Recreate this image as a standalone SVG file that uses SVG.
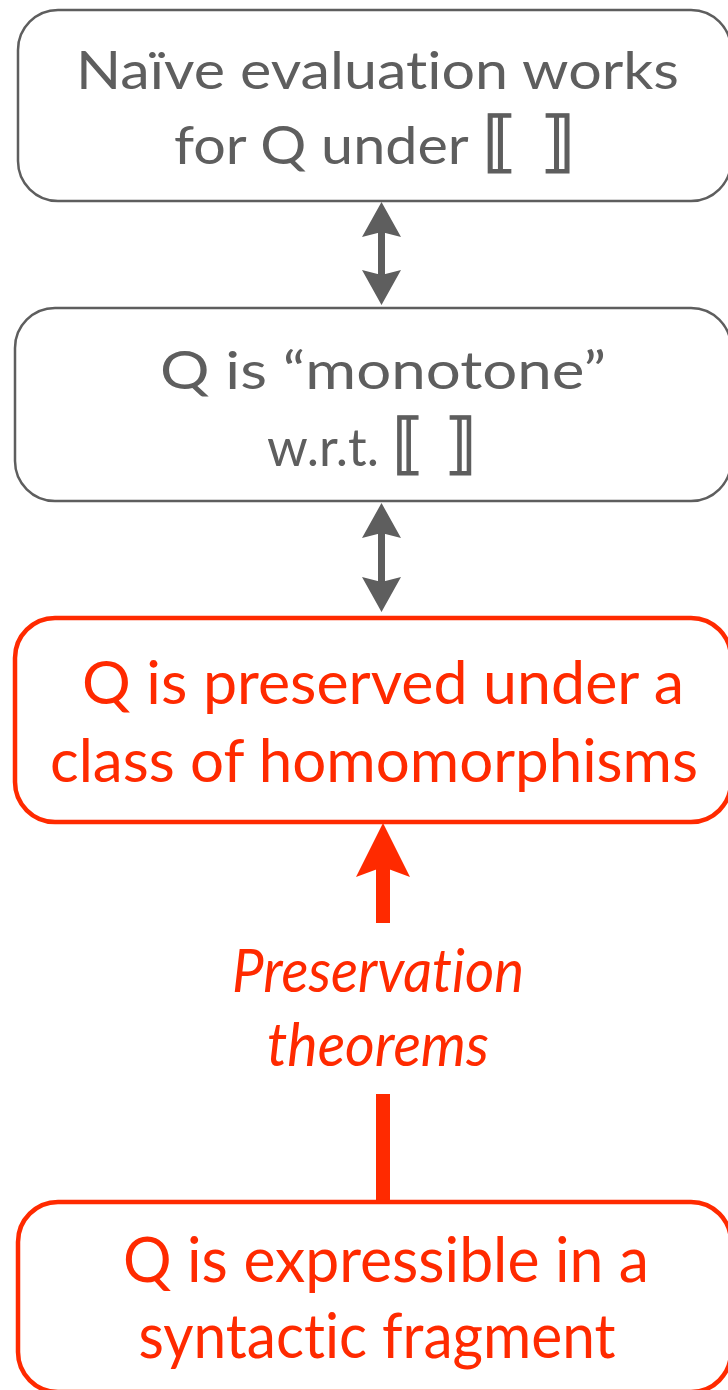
<svg xmlns="http://www.w3.org/2000/svg" width="728" height="1390" viewBox="0 0 728 1390">
  <style>
    .box-gray { fill: #ffffff; stroke: #5e5e5e; stroke-width: 2.5; }
    .box-red { fill: #ffffff; stroke: #ff2a00; stroke-width: 4.5; }
    .t { font-family: Lato, "DejaVu Sans", sans-serif; text-anchor: middle; font-variant-ligatures: none; }
    .t-gray { fill: #5e5e5e; font-size: 53px; }
    .t-red { fill: #ff2a00; }
    .br { font-family: "DejaVu Sans", sans-serif; font-size: 66px; stroke: #5e5e5e; stroke-width: 1.4; }
    .lbl { font-family: Lato, "DejaVu Sans", sans-serif; font-style: italic; font-size: 60px; fill: #ff2a00; text-anchor: middle; font-variant-ligatures: none; }
    .shaft-gray { stroke: #5e5e5e; stroke-width: 7; }
    .head-gray { fill: #5e5e5e; }
    .red { fill: #ff2a00; }
  </style>
  <rect width="728" height="1390" fill="#ffffff"/>

  <!-- connectors -->
  <g id="connectors">
    <!-- double arrow between first and second box -->
    <g id="arrow-1">
      <line class="shaft-gray" x1="381.5" y1="230" x2="381.5" y2="277"/>
      <polygon class="head-gray" points="381.5,202 401,237 381.5,232 362,237"/>
      <polygon class="head-gray" points="381.5,305 401,270 381.5,275 362,270"/>
    </g>
    <!-- double arrow between second and third box -->
    <g id="arrow-2">
      <line class="shaft-gray" x1="381.5" y1="531" x2="381.5" y2="583"/>
      <polygon class="head-gray" points="381.5,503 401,538 381.5,533 362,538"/>
      <polygon class="head-gray" points="381.5,612 401,577 381.5,582 362,577"/>
    </g>
    <!-- preservation theorems arrow, split around its label -->
    <g id="arrow-3">
      <polygon class="red" points="383,823 410,877 383,867 356,877"/>
      <rect class="red" x="376" y="865" width="14" height="58"/>
      <rect class="red" x="376" y="1094" width="14" height="108"/>
      <text class="lbl" x="378" y="992" textLength="292" lengthAdjust="spacingAndGlyphs">Preservation</text>
      <text class="lbl" x="378" y="1066" textLength="222" lengthAdjust="spacingAndGlyphs">theorems</text>
    </g>
  </g>

  <g id="node-naive">
    <rect class="box-gray" x="18" y="10" width="713" height="191" rx="40" ry="40"/>
    <text class="t t-gray" x="377.5" y="89" textLength="603" lengthAdjust="spacingAndGlyphs">Naïve evaluation works</text>
    <text class="t t-gray" x="375" y="164" textLength="402" lengthAdjust="spacingAndGlyphs">for Q under <tspan class="br">⟦ ⟧</tspan></text>
  </g>

  <g id="node-monotone">
    <rect class="box-gray" x="15" y="308" width="716" height="193" rx="40" ry="40"/>
    <text class="t t-gray" x="383" y="389" textLength="446" lengthAdjust="spacingAndGlyphs">Q is “monotone”</text>
    <text class="t t-gray" x="372" y="466" textLength="210" lengthAdjust="spacingAndGlyphs">w.r.t. <tspan class="br">⟦ ⟧</tspan></text>
  </g>

  <g id="node-preserved">
    <rect class="box-red" x="15" y="618" width="716" height="204" rx="40" ry="40"/>
    <text class="t t-red" font-size="60" x="383" y="704" textLength="602" lengthAdjust="spacingAndGlyphs">Q is preserved under a</text>
    <text class="t t-red" font-size="60" x="374" y="782" textLength="648" lengthAdjust="spacingAndGlyphs">class of homomorphisms</text>
  </g>

  <g id="node-expressible">
    <rect class="box-red" x="18" y="1202" width="713" height="190" rx="40" ry="40"/>
    <text class="t t-red" font-size="62" x="386" y="1282" textLength="526" lengthAdjust="spacingAndGlyphs">Q is expressible in a</text>
    <text class="t t-red" font-size="62" x="377" y="1358" textLength="477" lengthAdjust="spacingAndGlyphs">syntactic fragment</text>
  </g>
</svg>
